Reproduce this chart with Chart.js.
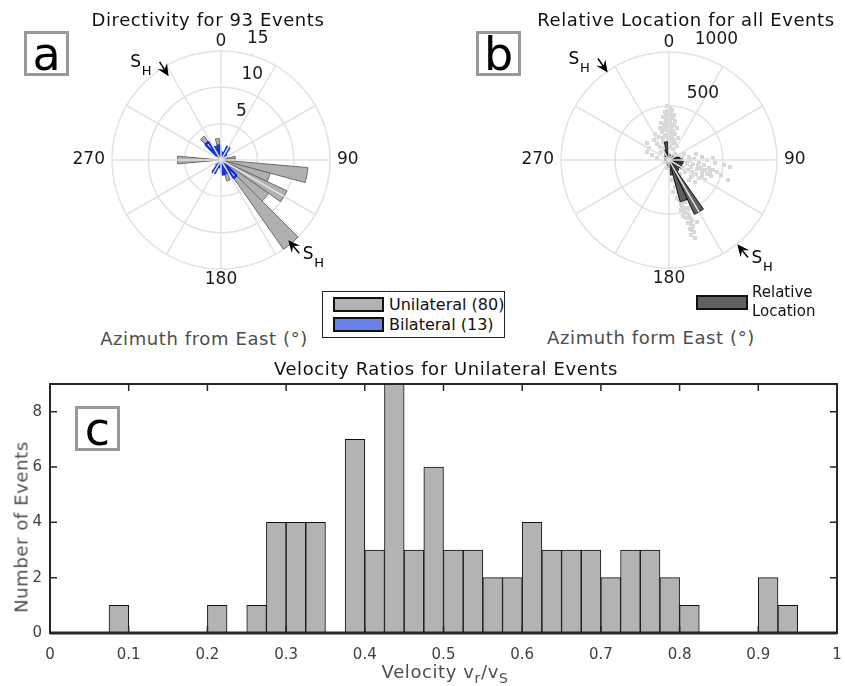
<!DOCTYPE html>
<html>
<head>
<meta charset="utf-8">
<script src="https://cdn.jsdelivr.net/npm/chart.js@4.4.0/dist/chart.umd.min.js"></script>
<style>
  body { margin: 0; background: #fff; font-family: "DejaVu Sans", sans-serif; }
  #wrap { position: relative; width: 845px; height: 686px; overflow: hidden; }
  canvas { position: absolute; }
  .txt { position: absolute; white-space: nowrap; transform: translate(-50%, -50%); letter-spacing: 0.6px; }
  .title { font-size: 18px; color: #111; }
  .axis { font-size: 18px; color: #4d4d4d; }
  .panel { position: absolute; box-sizing: border-box; width: 45px; height: 45px; border: 3px solid #999;
           display: flex; align-items: center; justify-content: center; font-size: 46px; line-height: 1; color: #000; }
  .legend { position: absolute; box-sizing: border-box; border: 1px solid #222; background: #fff; }
  .patch { position: absolute; box-sizing: border-box; border: 2px solid #111; }
  .ltxt { position: absolute; font-size: 16px; color: #111; white-space: nowrap; transform: translateY(-50%); }
  sub { font-size: 14px; vertical-align: -5px; line-height: 0; }
</style>
</head>
<body>
<div id="wrap">
  <canvas id="roseA" width="320" height="270" style="left:61px;top:25px"></canvas>
  <canvas id="roseB" width="320" height="270" style="left:509px;top:25px"></canvas>
  <canvas id="hist" width="845" height="326" style="left:0;top:360px"></canvas>

  <div class="txt title" style="left:208px;top:19px">Directivity for 93 Events</div>
  <div class="txt title" style="left:686px;top:19px">Relative Location for all Events</div>
  <div class="txt title" style="left:446px;top:368px">Velocity Ratios for Unilateral Events</div>
  <div class="txt axis" style="left:204px;top:338px">Azimuth from East (°)</div>
  <div class="txt axis" style="left:651px;top:337px">Azimuth form East (°)</div>
  <div class="txt axis" style="left:445px;top:671px">Velocity v<sub>r</sub>/v<sub>S</sub></div>
  <div class="txt axis" style="left:21px;top:527px;transform:translate(-50%,-50%) rotate(-90deg)">Number of Events</div>

  <div class="panel" style="left:24px;top:31px">a</div>
  <div class="panel" style="left:476px;top:31px">b</div>
  <div class="panel" style="left:75px;top:406px">c</div>

  <div class="legend" style="left:322px;top:291px;width:183px;height:47px"></div>
  <div class="patch" style="left:333px;top:297px;width:51px;height:15px;background:#b3b3b3"></div>
  <div class="patch" style="left:333px;top:317px;width:51px;height:15px;background:#6b80e8"></div>
  <div class="ltxt" style="left:389px;top:304px">Unilateral (80)</div>
  <div class="ltxt" style="left:389px;top:324px">Bilateral (13)</div>

  <div class="patch" style="left:696px;top:295px;width:52px;height:15px;background:#606060"></div>
  <div class="ltxt" style="left:752px;top:292px;font-size:15px">Relative</div>
  <div class="ltxt" style="left:752px;top:311px;font-size:15px">Location</div>
</div>

<script>
// rose bins: 10 degree wide, centred on the azimuth given
const binDeg = 10;
const roseBins = [0, 10, 20, 30, 40, 50, 60, 70, 80, 90, 100, 110, 120, 130, 140, 150, 160, 170,
                  180, 190, 200, 210, 220, 230, 240, 250, 260, 270, 280, 290, 300, 310, 320, 330, 340, 350];

// directivity counts per bin
const unilateralCounts = [1, 0, 0, 0, 0, 0, 1, 1, 2, 2, 12, 7, 10, 8, 15, 0, 3, 0,
                          0, 0, 0, 1, 0, 1, 0, 0, 0, 6, 0, 0, 0, 0, 4, 2, 1, 3];
const bilateralCounts  = [1, 1, 1, 2, 1, 0, 0, 0, 0, 0, 0, 0, 0, 0, 3, 2, 1, 2,
                          0, 1, 1, 2, 0, 0, 0, 0, 0, 0, 0, 0, 0, 0, 3, 2, 1, 2];

// relative location rose (m)
const relLocRose = [60, 50, 45, 40, 40, 45, 60, 80, 100, 120, 133, 125, 133, 120, 130, 555, 400, 140,
                    70, 50, 40, 35, 30, 30, 30, 30, 35, 40, 40, 40, 45, 50, 55, 70, 100, 170];

// relative event locations, metres east / north of the reference event
const cloudEast = [-19, 9, 28, -37, 0, 46, -56, 19, -28, 56, -74, 0, 28, -46, 74, -19, 37, -65, 9, 56,
                   -37, -93, 19, -9, 46, -56, 28, -28, 74, -83,
                   -139, -185, -204, -157, -111, -204,
                   -74, -28, 19, 56, 93, -46, 0, 37, 74, 111, -19, 28, 65,
                   139, 185, 232, 278, 324, 370, 407, 167, 204, 259, 306, 352, 148, 222, 278, 185, 241, 333,
                   389, 444, 482, 546, 565, 509, 426, 250, 306, 352, 407,
                   46, 74, 28, 93, 56, 111, 83, 130, 93, 148, 120, 176, 139, 185, 157, 213, 176, 222, 194,
                   232, 204, 241, 111, 259, 102, 167, 37,
                   -9, 19, -28, 37, -9, 9, -37, 46, -19, 19, -46, 0, 28, -19, -56, 37, 0, -37, 56, 9,
                   -46, 37, -19, -111, -130, 83, -83,
                   120, 157, 194, 222, 269, 296, 333, 380, 176, 213, 250, 306, 130, 102, 204,
                   65, 83, 120, 111, 148, 167, 194, 204, 213, 139, 74, 130];
const cloudNorth = [500, 482, 463, 444, 426, 417, 398, 389, 370, 361, 343, 333, 315, 306, 296, 278, 269, 259, 250, 241,
                    231, 213, 204, 185, 176, 167, 148, 139, 130, 120,
                    185, 111, 74, 46, 19, 157,
                    74, 46, 28, 56, 37, -19, -46, -28, -9, -28, -74, -93, -74,
                    56, 28, 9, -19, -46, -74, -93, -37, -65, -83, -111, -130, -111, -139, -167, -185, -204, -185,
                    -148, -111, -139, -185, -65, -46, -28, 56, 28, 0, 19,
                    -130, -167, -185, -222, -250, -278, -306, -333, -370, -389, -426, -444, -482, -509, -537, -556, -583, -611, -639,
                    -667, -695, -722, -463, -574, -352, -278, -296,
                    454, 435, 417, 398, 380, 352, 333, 324, 306, 287, 278, 259, 231, 222, 204, 194, 167, 157, 157, 120,
                    111, 102, 93, 148, 241, 204, 296,
                    19, -9, 0, -37, -46, -74, -93, -111, -93, -111, -130, -148, -74, -130, -157,
                    -204, -259, -315, -407, -444, -491, -537, -593, -648, -352, -352, -519];

// velocity ratio histogram, bins of 0.025 from 0 to 1
const velBinWidth = 0.025;
const velocityCounts = [0, 0, 0, 1, 0, 0, 0, 0, 1, 0, 1, 4, 4, 4, 0, 7, 3, 9, 3, 6,
                        3, 3, 2, 2, 4, 3, 3, 3, 2, 3, 3, 2, 1, 0, 0, 0, 2, 1, 0, 0];

const gridColor = '#e2e2e2';
const font = '"DejaVu Sans", sans-serif';
Chart.defaults.font.family = font;

function drawArrow(ctx, from, to) {
  const ang = Math.atan2(to.y - from.y, to.x - from.x);
  ctx.beginPath();
  ctx.moveTo(from.x, from.y);
  ctx.lineTo(to.x - Math.cos(ang) * 6, to.y - Math.sin(ang) * 6);
  ctx.lineWidth = 1.5;
  ctx.stroke();
  ctx.save();
  ctx.translate(to.x, to.y);
  ctx.rotate(ang);
  ctx.beginPath();
  ctx.moveTo(0, 0);
  ctx.lineTo(-12, -5.5);
  ctx.lineTo(-7.5, 0);
  ctx.lineTo(-12, 5.5);
  ctx.closePath();
  ctx.fill();
  ctx.restore();
}

// polar decorations: location cloud, 30 degree spokes, labels, S_H arrows
const roseDecor = {
  id: 'roseDecor',
  beforeDatasetsDraw(chart, args, opts) {
    if (!opts.cloud) return;
    const r = chart.scales.r, ctx = chart.ctx;
    ctx.save();
    ctx.fillStyle = '#d8d8d8';
    opts.cloud[0].forEach((e, i) => {
      const n = opts.cloud[1][i];
      const az = (Math.atan2(e, n) * 180 / Math.PI + 360) % 360;
      const p = r.getPointPosition(az / binDeg + 0.5, r.getDistanceFromCenterForValue(Math.hypot(e, n)));
      ctx.fillRect(p.x - 2, p.y - 2, 4, 4);
    });
    ctx.restore();
  },
  afterDatasetsDraw(chart) {
    const r = chart.scales.r, ctx = chart.ctx;
    ctx.save();
    ctx.strokeStyle = gridColor;
    ctx.lineWidth = 1.5;
    for (let a = 0; a < 360; a += 30) {
      const p = r.getPointPosition(a / binDeg + 0.5, r.drawingArea);
      ctx.beginPath();
      ctx.moveTo(r.xCenter, r.yCenter);
      ctx.lineTo(p.x, p.y);
      ctx.stroke();
    }
    ctx.restore();
  },
  afterDraw(chart, args, opts) {
    const r = chart.scales.r, ctx = chart.ctx;
    const R = r.drawingArea;
    ctx.save();
    ctx.fillStyle = '#1a1a1a';
    ctx.strokeStyle = '#000';
    ctx.font = '17px ' + font;
    ctx.textBaseline = 'middle';
    [[0, 9, 'center'], [90, 7, 'left'], [180, 11, 'center'], [270, 7, 'right']].forEach(([a, gap, align]) => {
      const p = r.getPointPosition(a / binDeg + 0.5, R + gap);
      ctx.textAlign = align;
      ctx.fillText(String(a), p.x, p.y);
    });
    ctx.textAlign = 'left';
    opts.tickValues.forEach(v => {
      const d = r.getDistanceFromCenterForValue(v);
      ctx.fillText(String(v), r.xCenter + 0.15 * d + 9.6, r.yCenter - d - 12.5);
    });
    ctx.fillStyle = '#000';
    opts.shAzimuths.forEach((az, k) => {
      const d = r.getDistanceFromCenterForValue(opts.shTips[k]);
      const tip = r.getPointPosition(az / binDeg + 0.5, d);
      const tail = r.getPointPosition(az / binDeg + 0.5, d + 17);
      drawArrow(ctx, tail, tip);
      const sx = tail.y < r.yCenter ? tail.x - 24 : tail.x + 9;
      const sy = tail.y + 1;
      ctx.textAlign = 'center';
      ctx.font = '17px ' + font;
      ctx.fillText('S', sx, sy);
      ctx.font = '13px ' + font;
      ctx.fillText('H', sx + 11, sy + 9);
    });
    ctx.restore();
  }
};

function roseOptions(max, step, pad, decor) {
  return {
    responsive: false,
    animation: false,
    layout: { padding: pad },
    plugins: { legend: { display: false }, tooltip: { enabled: false }, roseDecor: decor },
    scales: {
      r: {
        min: 0, max: max, startAngle: -binDeg / 2, z: 1,
        ticks: { display: false, stepSize: step },
        grid: { color: gridColor, lineWidth: 1.5 },
        angleLines: { display: false },
        pointLabels: { display: false }
      }
    }
  };
}

new Chart(document.getElementById('roseA'), {
  type: 'polarArea',
  data: {
    labels: roseBins,
    datasets: [
      { label: 'Bilateral (13)', data: bilateralCounts, backgroundColor: '#ffffff', borderColor: '#1434d8', borderWidth: 2.5 },
      { label: 'Unilateral (80)', data: unilateralCounts, backgroundColor: '#b0b0b0', borderColor: '#6a6a6a', borderWidth: 1 }
    ]
  },
  options: roseOptions(15, 5, { left: 51, right: 51, top: 26, bottom: 26 },
    { tickValues: [5, 10, 15], shAzimuths: [328, 140], shTips: [13.6, 14.4] }),
  plugins: [roseDecor]
});

new Chart(document.getElementById('roseB'), {
  type: 'polarArea',
  data: {
    labels: roseBins,
    datasets: [
      { label: 'Relative Location', data: relLocRose, backgroundColor: '#5f5f5f', borderColor: '#111111', borderWidth: 1 }
    ]
  },
  options: roseOptions(1000, 500, { left: 52, right: 52, top: 27, bottom: 27 },
    { tickValues: [500, 1000], shAzimuths: [325, 141], shTips: [990, 1005], cloud: [cloudEast, cloudNorth] }),
  plugins: [roseDecor]
});

// box frame with inward ticks on all four sides
const frameTicks = {
  id: 'frameTicks',
  afterDatasetsDraw(chart) {
    const { ctx, chartArea: a, scales: { x, y } } = chart;
    ctx.save();
    ctx.strokeStyle = '#262626';
    ctx.lineWidth = 1.5;
    ctx.beginPath();
    x.ticks.forEach(t => {
      const px = x.getPixelForValue(t.value);
      ctx.moveTo(px, a.bottom); ctx.lineTo(px, a.bottom - 7);
      ctx.moveTo(px, a.top); ctx.lineTo(px, a.top + 7);
    });
    y.ticks.forEach(t => {
      const py = y.getPixelForValue(t.value);
      ctx.moveTo(a.left, py); ctx.lineTo(a.left + 7, py);
      ctx.moveTo(a.right, py); ctx.lineTo(a.right - 7, py);
    });
    ctx.stroke();
    ctx.lineWidth = 2;
    ctx.strokeRect(a.left, a.top, a.width, a.height);
    ctx.lineWidth = 3;
    ctx.beginPath();
    ctx.moveTo(a.left, a.bottom); ctx.lineTo(a.right, a.bottom);
    ctx.stroke();
    ctx.restore();
  }
};

const tickFont = { size: 15, family: font };
new Chart(document.getElementById('hist'), {
  type: 'bar',
  data: {
    datasets: [{
      data: velocityCounts.map((c, i) => ({ x: (i + 0.5) * velBinWidth, y: c })),
      backgroundColor: '#b3b3b3',
      borderColor: '#111111',
      borderWidth: 1,
      barPercentage: 1,
      categoryPercentage: 1
    }]
  },
  options: {
    responsive: false,
    animation: false,
    layout: { padding: { top: 24, right: 8, left: 0, bottom: 0 } },
    plugins: { legend: { display: false }, tooltip: { enabled: false } },
    scales: {
      x: {
        type: 'linear', min: 0, max: 1, offset: false,
        grid: { display: false, drawTicks: false }, border: { display: false },
        ticks: { stepSize: 0.1, padding: 13, color: '#404040', font: tickFont, maxRotation: 0, autoSkip: false,
                 callback: v => String(v) },
        afterFit: s => { s.height = 53; s.paddingLeft = 0; s.paddingRight = 0; }
      },
      y: {
        min: 0, max: 9,
        grid: { display: false, drawTicks: false }, border: { display: false },
        ticks: { stepSize: 2, includeBounds: false, padding: 8, color: '#404040', font: tickFont },
        afterFit: s => { s.width = 50; }
      }
    }
  },
  plugins: [frameTicks]
});
</script>
</body>
</html>
